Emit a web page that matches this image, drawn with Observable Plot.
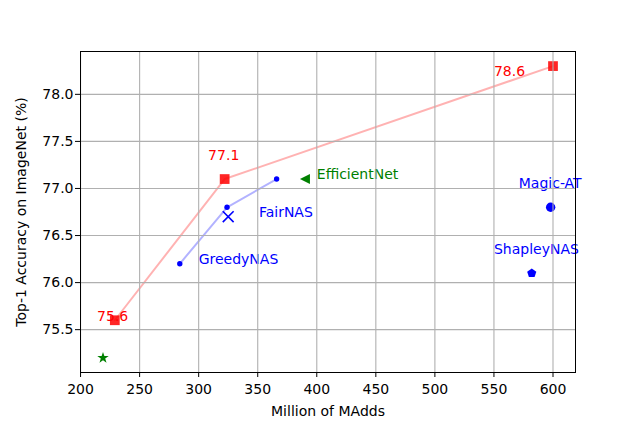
<!DOCTYPE html>
<html><head><meta charset="utf-8">
<script src="https://cdn.jsdelivr.net/npm/d3@7"></script>
<script src="https://cdn.jsdelivr.net/npm/@observablehq/plot@0.6"></script>
<style>body{margin:0;background:#fff} svg{font-family:"DejaVu Sans",sans-serif}</style>
</head><body><div id="chart"></div>
<script>
// Ours (red squares)
const oursMAdds = [229, 322, 600];
const oursAcc = [75.6, 77.1, 78.3];
const oursLabelText = ["75.6", "77.1", "78.6"];
const oursLabelMAdds = [214, 308, 550];
const oursLabelAcc = [75.59, 77.3, 78.2];
// GreedyNAS (blue dots + line)
const greedyMAdds = [284, 324, 366];
const greedyAcc = [76.2, 76.8, 77.1];
// Single models
const fairNAS = {madds: 325, acc: 76.7};
const efficientNet = {madds: 390, acc: 77.1};
const magicAT = {madds: 598, acc: 76.8};
const shapleyNAS = {madds: 582, acc: 76.1};
const starModel = {madds: 219, acc: 75.2};
// Name labels
const labelNames = ["GreedyNAS", "FairNAS", "EfficientNet", "Magic-AT", "ShapleyNAS"];
const labelMAdds = [300, 351, 400, 571, 550];
const labelAcc = [76.2, 76.7, 77.1, 77.0, 76.3];
const labelColors = ["blue", "blue", "green", "blue", "blue"];
// Ticks
const xTicks = [200, 250, 300, 350, 400, 450, 500, 550, 600];
const yTicks = [75.5, 76.0, 76.5, 77.0, 77.5, 78.0];

const ours = oursMAdds.map((m, i) => ({m, a: oursAcc[i]}));
const oursLabels = oursLabelText.map((t, i) => ({t, m: oursLabelMAdds[i], a: oursLabelAcc[i]}));
const greedy = greedyMAdds.map((m, i) => ({m, a: greedyAcc[i]}));
const names = labelNames.map((t, i) => ({t, m: labelMAdds[i], a: labelAcc[i], c: labelColors[i]}));

const pentagon = {draw(ctx, size) {
  const R = Math.sqrt(size / Math.PI);
  for (let i = 0; i < 5; i++) {
    const ang = -Math.PI / 2 + i * 2 * Math.PI / 5;
    const px = R * Math.cos(ang), py = R * Math.sin(ang);
    if (i === 0) ctx.moveTo(px, py); else ctx.lineTo(px, py);
  }
  ctx.closePath();
}};
const triLeft = {draw(ctx, size) {
  const R = Math.sqrt(size / Math.PI);
  ctx.moveTo(-R, 0); ctx.lineTo(R, -R); ctx.lineTo(R, R); ctx.closePath();
}};

const chart = Plot.plot({
  width: 639, height: 426,
  marginLeft: 80, marginRight: 64, marginTop: 51, marginBottom: 54,
  x: {domain: [199.95, 619.05]},
  y: {domain: [75.045, 78.455]},
  style: {fontFamily: "DejaVu Sans", fontSize: "14px", color: "black", background: "white"},
  marks: [
    Plot.line(ours, {x: "m", y: "a", stroke: "red", strokeOpacity: 0.3, strokeWidth: 2}),
    Plot.line(greedy, {x: "m", y: "a", stroke: "blue", strokeOpacity: 0.3, strokeWidth: 2}),
    Plot.dot(ours, {x: "m", y: "a", symbol: "square", r: 5.5, fill: "red", fillOpacity: 0.85}),
    Plot.dot(greedy, {x: "m", y: "a", r: 2.7, fill: "blue"}),
    Plot.dot([fairNAS], {x: "madds", y: "acc", symbol: "times", r: 5, stroke: "blue", strokeWidth: 1.6}),
    Plot.dot([efficientNet], {x: "madds", y: "acc", symbol: triLeft, r: 5, fill: "green"}),
    Plot.dot([magicAT], {x: "madds", y: "acc", r: 4.7, fill: "blue"}),
    Plot.dot([shapleyNAS], {x: "madds", y: "acc", symbol: pentagon, r: 4.8, fill: "blue"}),
    Plot.dot([starModel], {x: "madds", y: "acc", symbol: "star", r: 3.6, fill: "green"}),
    Plot.text(oursLabels, {x: "m", y: "a", text: "t", textAnchor: "start", lineAnchor: "bottom", fill: "red", fontSize: 14}),
    Plot.text(names, {x: "m", y: "a", text: "t", textAnchor: "start", lineAnchor: "bottom", fill: "c", fontSize: 14}),
    Plot.gridX(xTicks, {stroke: "#b0b0b0", strokeOpacity: 1, strokeWidth: 1.1}),
    Plot.gridY(yTicks, {stroke: "#b0b0b0", strokeOpacity: 1, strokeWidth: 1.1}),
    Plot.frame({stroke: "black", strokeWidth: 1}),
    Plot.axisX(xTicks, {tickSize: 5, tickPadding: 7, fontSize: 14, label: "Million of MAdds", labelAnchor: "center", labelArrow: "none", labelOffset: 43}),
    Plot.axisY(yTicks, {tickSize: 5, tickPadding: 2, fontSize: 14, tickFormat: d3.format(".1f"), label: "Top-1 Accuracy on ImageNet (%)", labelAnchor: "center", labelArrow: "none", labelOffset: 64})
  ]
});
document.getElementById("chart").appendChild(chart);
</script>
</body></html>
